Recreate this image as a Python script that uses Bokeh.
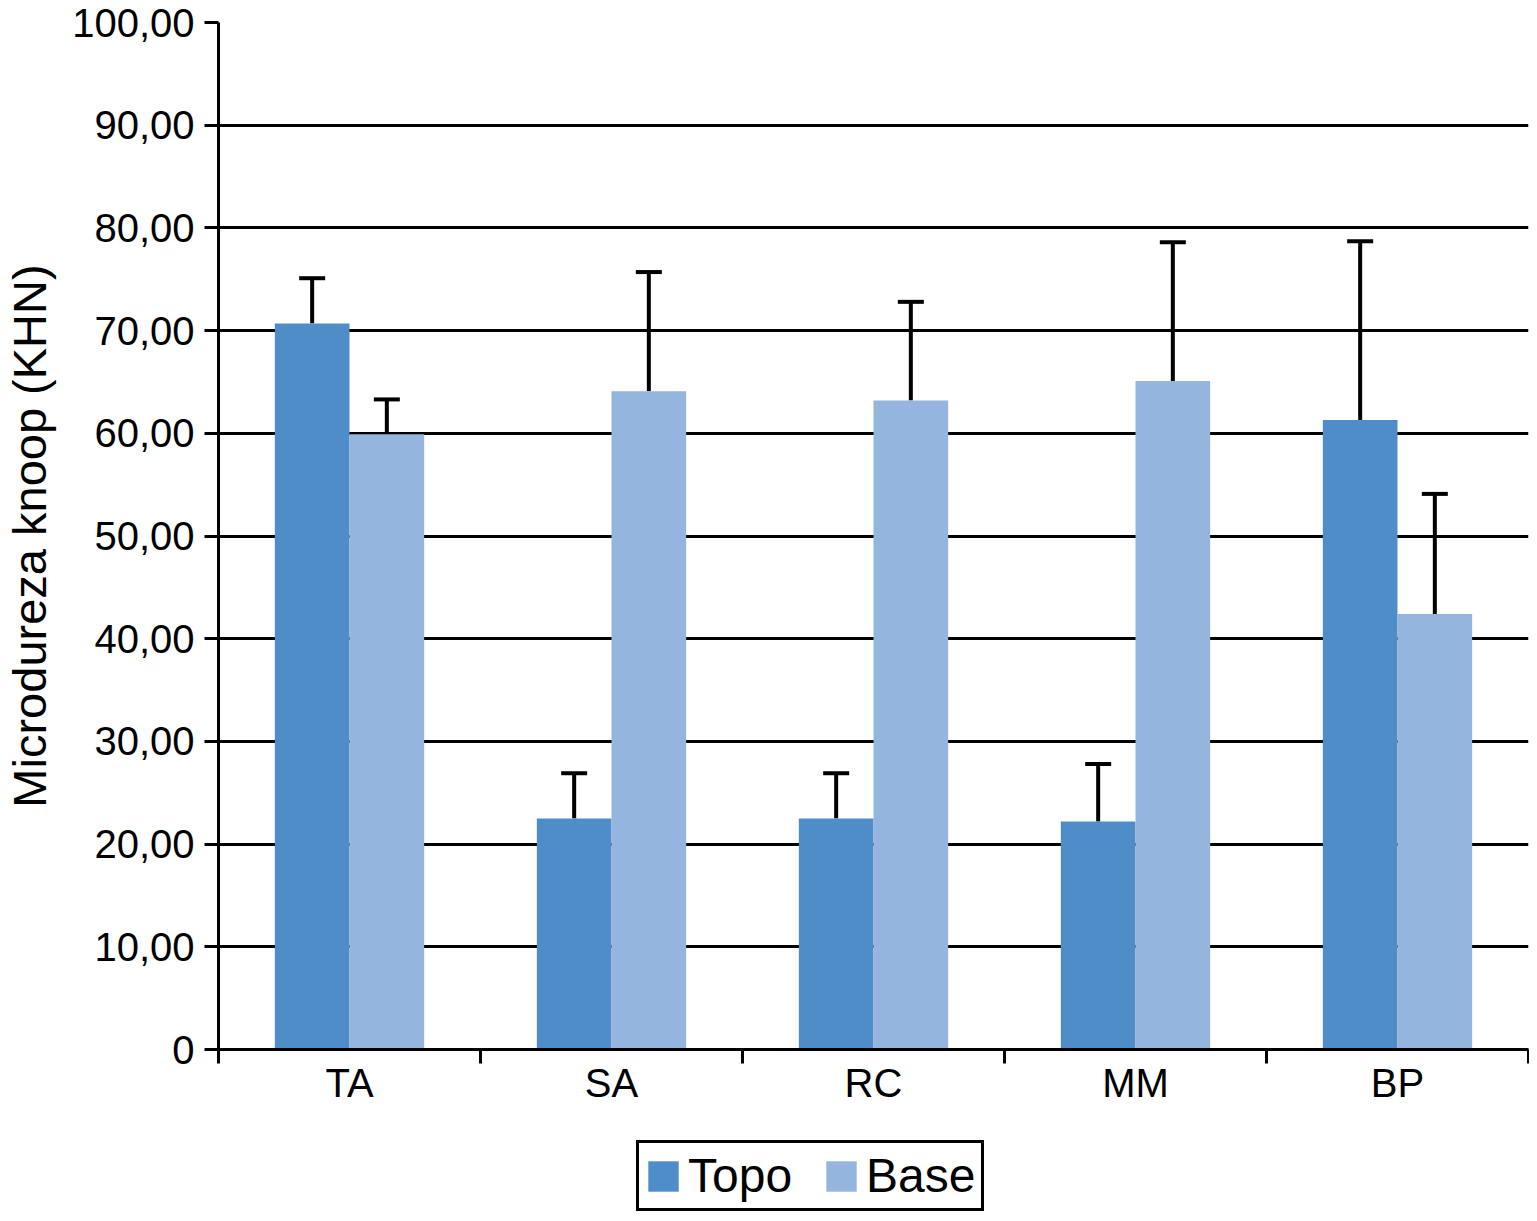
from bokeh.plotting import figure
from bokeh.layouts import column
from bokeh.models import (ColumnDataSource, FixedTicker, CustomJSTickFormatter, Whisker,
                          TeeHead, Legend, LegendItem, Range1d)
from bokeh.embed import file_html
from bokeh.resources import INLINE

categories = ["TA", "SA", "RC", "MM", "BP"]
topo = [70.7, 22.5, 22.5, 22.2, 61.3]
topo_err = [4.4, 4.4, 4.4, 5.6, 17.4]
base = [59.9, 64.1, 63.2, 65.1, 42.4]
base_err = [3.4, 11.6, 9.6, 13.5, 11.7]
series_names = ["Topo", "Base"]

TOPO_COLOR = "#4f8dc9"
BASE_COLOR = "#93b5de"
FONT = "Liberation Sans"
W = 1529

bw = 0.285
xc = [i + 0.5 for i in range(len(categories))]
src_t = ColumnDataSource(dict(x=[c - bw / 2 for c in xc], top=topo,
                              upper=[v + e for v, e in zip(topo, topo_err)]))
src_b = ColumnDataSource(dict(x=[c + bw / 2 for c in xc], top=base,
                              upper=[v + e for v, e in zip(base, base_err)]))

p = figure(width=W, height=1125, output_backend="svg", toolbar_location=None,
           x_range=Range1d(0, 5), y_range=Range1d(0, 100),
           min_border_left=218, min_border_right=1, min_border_top=22, min_border_bottom=76)
p.outline_line_color = None
p.background_fill_color = "white"

p.ygrid.grid_line_color = "black"
p.ygrid.grid_line_width = 3
p.xgrid.grid_line_color = None

p.vbar(x="x", top="top", width=bw, source=src_t, fill_color=TOPO_COLOR, line_color=None)
p.vbar(x="x", top="top", width=bw, source=src_b, fill_color=BASE_COLOR, line_color=None)

for src in (src_t, src_b):
    w = Whisker(base="x", upper="upper", lower="top", source=src, dimension="height",
                upper_head=TeeHead(size=26, line_width=4, line_color="black"),
                lower_head=None, line_width=4, line_color="black")
    p.add_layout(w)

# y axis
p.yaxis.ticker = FixedTicker(ticks=list(range(0, 101, 10)))
p.yaxis.formatter = CustomJSTickFormatter(
    code="return tick == 0 ? '0' : tick.toFixed(2).replace('.', ',');")
p.yaxis.axis_label = "Microdureza knoop (KHN)"
p.yaxis.axis_label_text_font = FONT
p.yaxis.axis_label_text_font_size = "47px"
p.yaxis.axis_label_text_font_style = "normal"
p.yaxis.axis_label_text_color = "black"
p.yaxis.axis_label_standoff = 13
p.yaxis.major_label_text_font = FONT
p.yaxis.major_label_text_font_size = "40px"
p.yaxis.major_label_text_color = "black"
p.yaxis.major_label_standoff = 10
p.yaxis.major_tick_in = 0
p.yaxis.major_tick_out = 14
p.yaxis.major_tick_line_width = 3
p.yaxis.minor_tick_line_color = None
p.yaxis.axis_line_width = 3

# x axis
p.xaxis.ticker = FixedTicker(ticks=xc, minor_ticks=list(range(0, 6)))
p.xaxis.major_label_overrides = {c: lab for c, lab in zip(xc, categories)}
p.xaxis.major_label_text_font = FONT
p.xaxis.major_label_text_font_size = "40px"
p.xaxis.major_label_text_color = "black"
p.xaxis.major_label_standoff = -3
p.xaxis.major_tick_in = 0
p.xaxis.major_tick_out = 0
p.xaxis.minor_tick_in = 0
p.xaxis.minor_tick_out = 14
p.xaxis.minor_tick_line_width = 3
p.xaxis.minor_tick_line_color = "black"
p.xaxis.axis_line_width = 3

# legend in its own strip below the chart
lf = figure(width=W, height=88, output_backend="svg", toolbar_location=None,
            x_range=Range1d(0, 1), y_range=Range1d(0, 1),
            x_axis_type=None, y_axis_type=None, min_border=0)
lf.outline_line_color = None
lf.xgrid.grid_line_color = None
lf.ygrid.grid_line_color = None
# legend-only renderers: one point each, placed outside the visible range
lr_t = lf.vbar(x=[5], top=[0], width=0.1, fill_color=TOPO_COLOR, line_color=None)
lr_b = lf.vbar(x=[5], top=[0], width=0.1, fill_color=BASE_COLOR, line_color=None)
legend = Legend(items=[LegendItem(label=series_names[0], renderers=[lr_t]),
                       LegendItem(label=series_names[1], renderers=[lr_b])],
                orientation="horizontal", location=(418, 2),
                label_text_font=FONT, label_text_font_size="48px",
                label_text_color="black", label_height=38,
                glyph_width=38, glyph_height=38, label_standoff=6, spacing=30,
                padding=5, margin=0,
                border_line_color="black", border_line_width=3, border_line_alpha=1.0,
                background_fill_alpha=1.0)
lf.add_layout(legend)

layout = column(p, lf, spacing=0)
open("out.html", "w").write(file_html(layout, INLINE))
